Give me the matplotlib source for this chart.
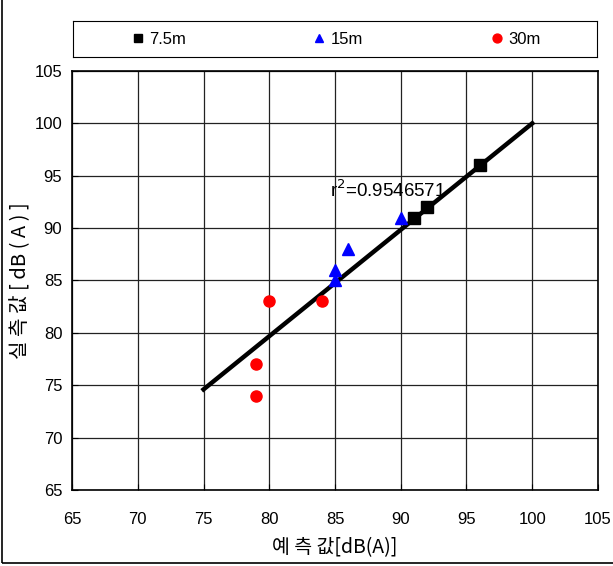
"""Measured vs predicted noise level, 7.5m / 15m / 30m."""
import matplotlib
matplotlib.use('Agg')
import matplotlib.pyplot as plt
from matplotlib.patches import Rectangle

plt.rcParams['font.family'] = ['Liberation Sans', 'Noto Sans CJK KR']

# data
x_75 = [91, 92, 96]
y_75 = [91, 92, 96]
x_15 = [85, 85, 86, 90]
y_15 = [85, 86, 88, 91]
x_30 = [79, 79, 80, 84]
y_30 = [74, 77, 83, 83]
fit_x = [75, 100]
fit_y = [74.6, 100]
r2_text = 'r$^2$=0.9546571'
ticks = list(range(65, 106, 5))

fig = plt.figure(figsize=(6.13, 5.66), dpi=100)
ax = fig.add_axes([0.1175, 0.1343, 0.858, 0.7403])

ax.plot(fit_x, fit_y, color='black', lw=3.2, zorder=3)
h1, = ax.plot(x_75, y_75, 's', color='black', ms=8, zorder=4, label='7.5m')
h2, = ax.plot(x_15, y_15, '^', color='blue', ms=8, zorder=4, label='15m')
h3, = ax.plot(x_30, y_30, 'o', color='red', ms=8, zorder=4, label='30m')

ax.text(84.6, 93.0, r2_text, fontsize=13.5, ha='left', va='baseline', zorder=5)

ax.set_xlim(65, 105)
ax.set_ylim(65, 105)
ax.set_xticks(ticks)
ax.set_yticks(ticks)
ax.tick_params(direction='in', labelsize=12, length=4)
ax.tick_params(axis='x', pad=16)
ax.tick_params(axis='y', pad=7)
ax.grid(True, color='#222222', lw=0.9)
ax.set_axisbelow(True)
for s in ax.spines.values():
    s.set_linewidth(1.2)

ax.set_xlabel('예 측 값[dB(A)]', fontsize=14, family=['Noto Sans CJK KR'])
ax.set_ylabel('실 측 값 [ dB ( A ) ]', fontsize=14.5, family=['Noto Sans CJK KR'])
ax.xaxis.set_label_coords(0.5, -0.112)
ax.yaxis.set_label_coords(-0.078, 0.5)

leg_ax = fig.add_axes([0.119, 0.899, 0.855, 0.0636])
leg_ax.set_xticks([])
leg_ax.set_yticks([])
leg = leg_ax.legend(handles=[h1, h2, h3], loc='center', ncol=3, frameon=False,
                    fontsize=12, columnspacing=7.5, handletextpad=0.2,
                    handlelength=1.0, markerscale=0.8)

fig.patches.append(Rectangle((0.003, 0.005), 1.2, 1.2, transform=fig.transFigure,
                             fill=False, edgecolor='black', lw=1.2))

fig.savefig('out.png', dpi=100)
